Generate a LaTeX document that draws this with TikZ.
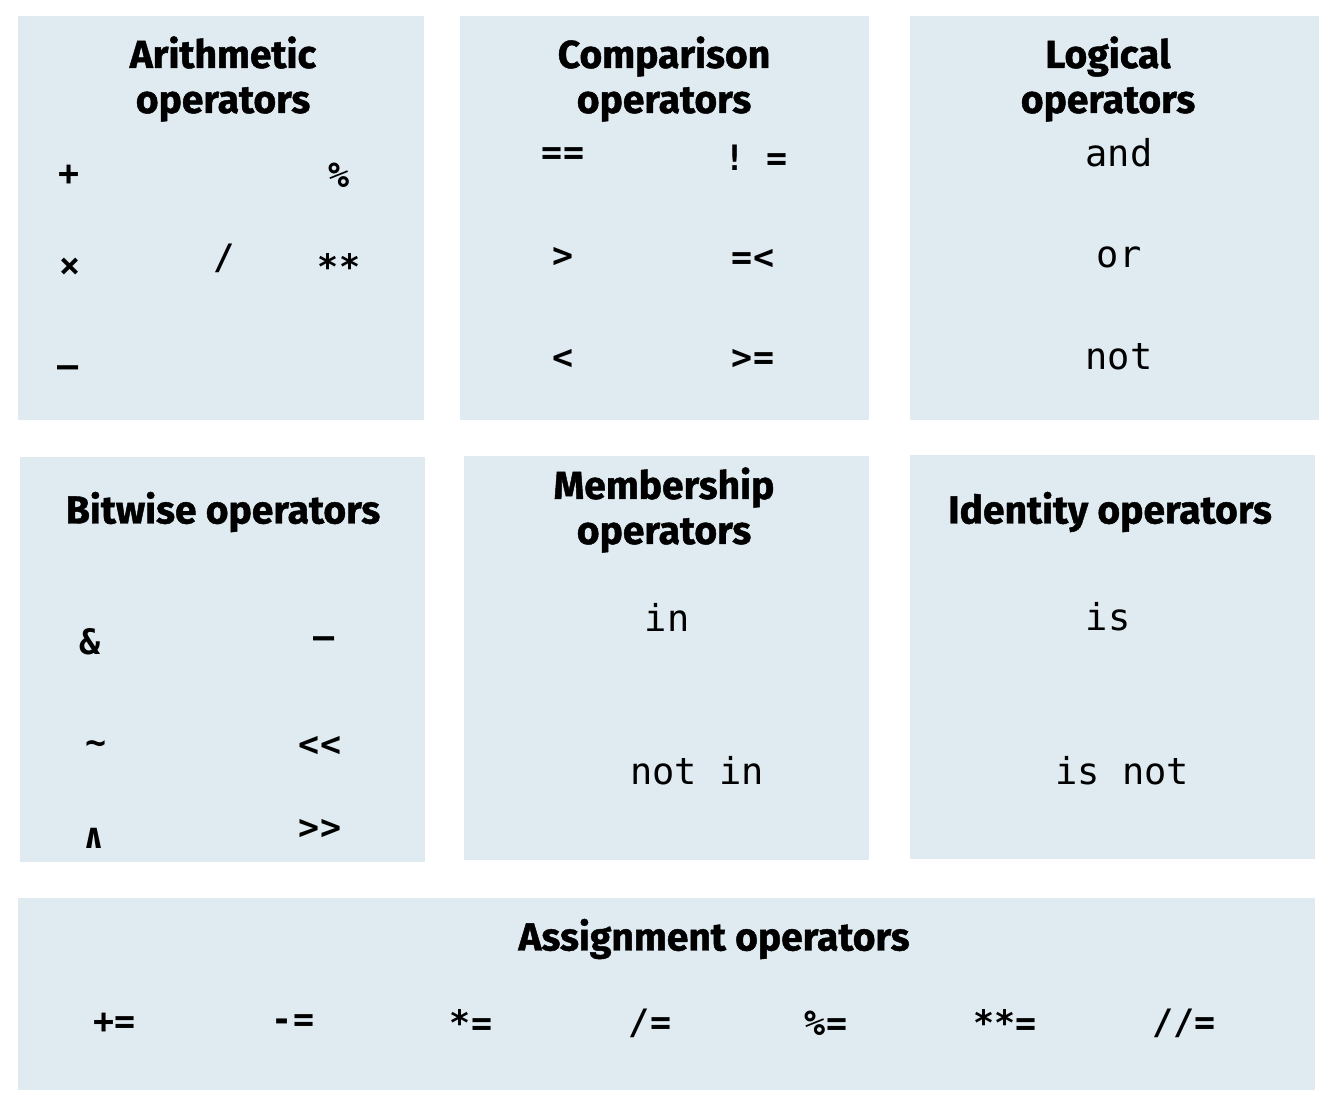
\documentclass[tikz,border=0pt]{standalone}
\usepackage{fontspec}
\setmainfont{Fira Sans}[BoldFeatures={FakeBold=1.2}]
\newfontfamily\opmono{DejaVu Sans Mono}
\definecolor{boxfill}{HTML}{DFEBF1}
\tikzset{
  x=1pt, y=-1pt,
  panel/.style={fill=boxfill, draw=none},
  ttl/.style={font=\fontsize{39}{45}\selectfont\bfseries, align=center, inner sep=0pt, anchor=center},
  sym/.style={font=\opmono\bfseries\fontsize{35}{40}\selectfont, inner sep=0pt, anchor=center},
  wrd/.style={font=\opmono\fontsize{37}{42}\selectfont, inner sep=0pt, anchor=center}
}
\begin{document}
\begin{tikzpicture}
\useasboundingbox (0,0) rectangle (1334,1110);
\fill[white] (0,0) rectangle (1334,1110);
% panels
\path[panel] (18,16) rectangle (424,420) node[pos=0] (p1) {};
\path[panel] (460,16) rectangle (869,420) node[pos=0] (p2) {};
\path[panel] (910,16) rectangle (1319,420) node[pos=0] (p3) {};
\path[panel] (20,457) rectangle (425,862) node[pos=0] (p4) {};
\path[panel] (464,456) rectangle (869,860) node[pos=0] (p5) {};
\path[panel] (910,455) rectangle (1315,859) node[pos=0] (p6) {};
\path[panel] (18,898) rectangle (1315,1090) node[pos=0] (p7) {};
% titles
\node[ttl] (t1) at (223,79) {Arithmetic\\operators};
\node[ttl] (t2) at (664,79) {Comparison\\operators};
\node[ttl] (t3) at (1108,79) {Logical\\operators};
\node[ttl] (t4) at (223,512) {Bitwise operators};
\node[ttl] (t5) at (664,510) {Membership\\operators};
\node[ttl] (t6) at (1110,512) {Identity operators};
\node[ttl] (t7) at (714,939) {Assignment operators};
% arithmetic
\node[sym] (a1) at (69,175) {+};
\node[sym] (a2) at (339,175) {\%};
\node[sym] (a3) at (70,268) {×};
\node[sym] (a4) at (224,258) {/};
\node[sym] (a5) at (339,267) {**};
\node[sym] (a6) at (68,372) {–};
% comparison
\node[sym] (c1) at (563,156) {==};
\node[sym] (c2) at (756,158) {!~=};
\node[sym] (c3) at (563,257) {>};
\node[sym] (c4) at (753,259) {=<};
\node[sym] (c5) at (563,359) {<};
\node[sym] (c6) at (753,359) {>=};
% logical
\node[wrd] (l1) at (1119,153) {and};
\node[wrd] (l2) at (1119,257) {or};
\node[wrd] (l3) at (1119,357) {not};
% bitwise
\node[sym] (b1) at (90,642) {\&};
\node[sym] (b2) at (324,643) {–};
\node[sym] (b3) at (96,748) {\char"007E};
\node[sym] (b4) at (320,746) {<<};
\node[sym] (b5) at (94,838) {∧};
\node[sym] (b6) at (320,829) {>>};
% membership
\node[wrd] (m1) at (667,617) {in};
\node[wrd] (m2) at (697,771) {not in};
% identity
\node[wrd] (i1) at (1108,617) {is};
\node[wrd] (i2) at (1122,771) {is not};
% assignment
\node[sym] (s1) at (115,1023) {+=};
\node[sym] (s2) at (293,1023) {-=};
\node[sym] (s3) at (471,1023) {*=};
\node[sym] (s4) at (650,1023) {/=};
\node[sym] (s5) at (826,1023) {\%=};
\node[sym] (s6) at (1005,1023) {**=};
\node[sym] (s7) at (1184,1023) {//=};
\end{tikzpicture}
\end{document}
